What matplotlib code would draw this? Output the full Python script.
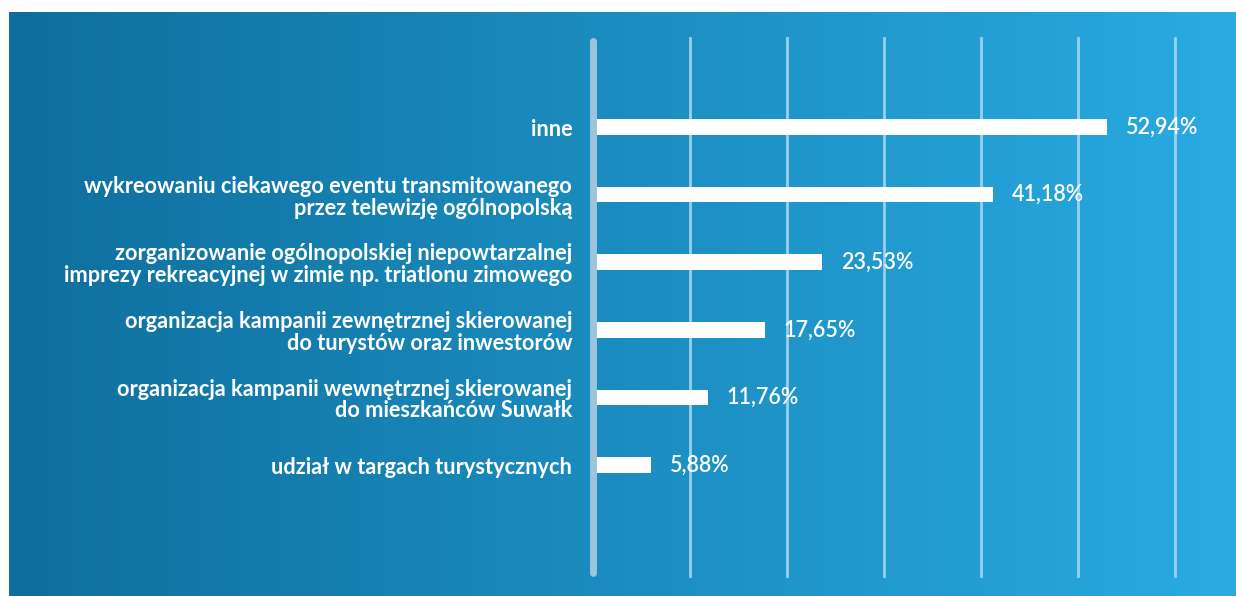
import matplotlib.pyplot as plt
import numpy as np

kategorie = [
    'inne',
    'wykreowaniu ciekawego eventu transmitowanego\nprzez telewizję ogólnopolską',
    'zorganizowanie ogólnopolskiej niepowtarzalnej\nimprezy rekreacyjnej w zimie np. triatlonu zimowego',
    'organizacja kampanii zewnętrznej skierowanej\ndo turystów oraz inwestorów',
    'organizacja kampanii wewnętrznej skierowanej\ndo mieszkańców Suwałk',
    'udział w targach turystycznych',
]
wartosci = [52.94, 41.18, 23.53, 17.65, 11.76, 5.88]
etykiety = ['52,94%', '41,18%', '23,53%', '17,65%', '11,76%', '5,88%']
siatka = [10, 20, 30, 40, 50, 60]

W, H = 1236, 596
fig = plt.figure(figsize=(W / 100, H / 100), dpi=100)
fig.patch.set_facecolor('white')

# tlo z gradientem
bg = fig.add_axes([9 / W, 0, 1 - 9 / W, 1 - 12 / H])
bg.set_axis_off()
lewy = np.array([0x0e, 0x6f, 0x9e]) / 255
prawy = np.array([0x29, 0xab, 0xe2]) / 255
t = np.linspace(0, 1, 256)[None, :, None]
grad = lewy * (1 - t) + prawy * t
bg.imshow(grad, aspect='auto', extent=[0, 1, 0, 1])

ax = fig.add_axes([593 / W, 20 / H, (1175 - 593) / W, (558 - 20) / H])
ax.patch.set_alpha(0)
for s in ax.spines.values():
    s.set_visible(False)
ax.set_xlim(0, 60)
ax.set_ylim(6.64, -1.317)

y = np.arange(len(kategorie))
for g in siatka:
    ax.plot([g, g], [6.64, -1.317], color='#a8d6f2', lw=2, alpha=0.9, zorder=1, clip_on=False)
ax.plot([0, 0], [6.60, -1.28], color='#9ec4dc', lw=5, solid_capstyle='round', zorder=3, clip_on=False)

ax.barh(y, wartosci, height=0.23, color='white', zorder=2, left=0.1)
for yi, v, lab in zip(y, wartosci, etykiety):
    ax.text(v + 2.0, yi, lab, color='white', fontsize=15.5, fontfamily='Lato',
            fontweight='semibold', va='center', ha='left', zorder=4)

ax.set_xticks([])
ax.set_yticks(y)
ax.set_yticklabels(kategorie, fontsize=15.7, fontfamily='Lato', fontweight='bold',
                   color='white', linespacing=1.05)
ax.tick_params(axis='y', length=0, pad=15)
for lab in ax.get_yticklabels():
    lab.set_horizontalalignment('right')

fig.savefig('out.png', dpi=100)
